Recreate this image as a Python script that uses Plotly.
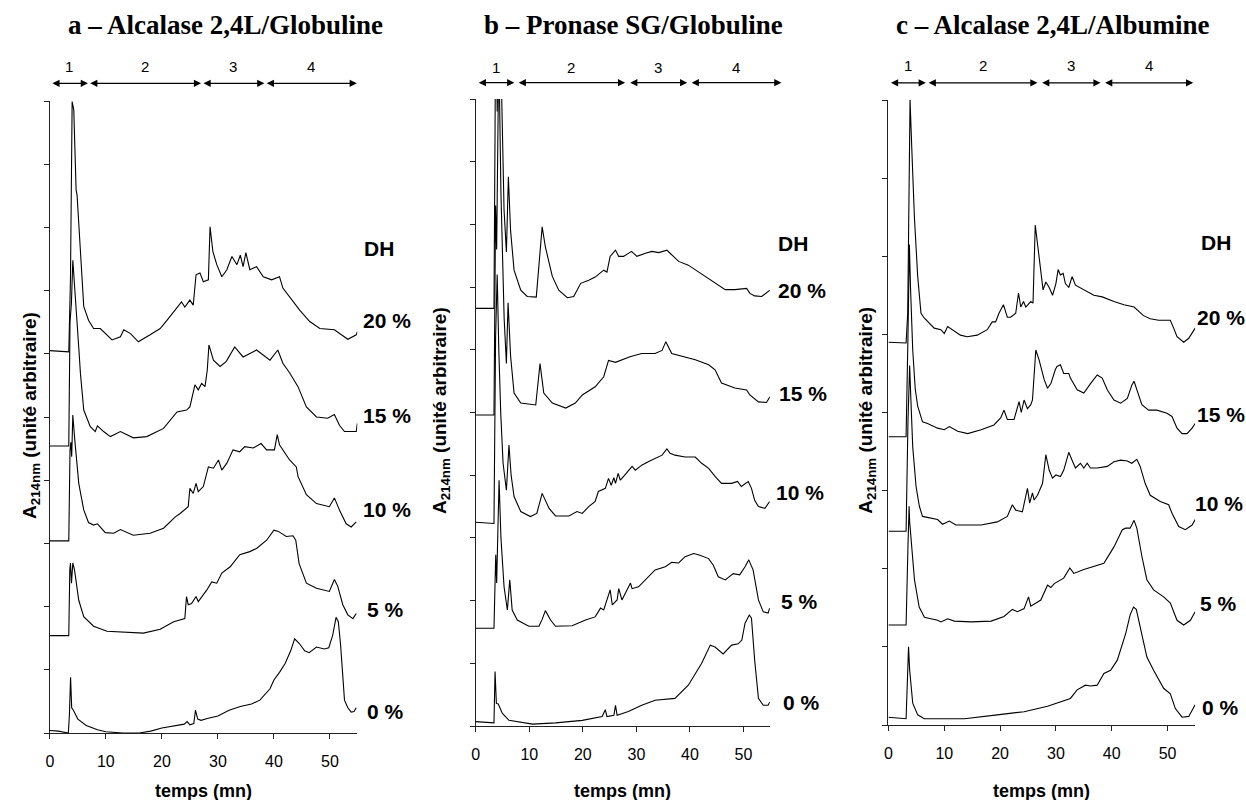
import plotly.graph_objects as go

# ---------------- data ----------------
DH_LEVELS = ["0 %", "5 %", "10 %", "15 %", "20 %"]
TIME_TICKS = [0, 10, 20, 30, 40, 50]
REGION_NAMES = ["1", "2", "3", "4"]

# panel a – Alcalase 2,4L / Globuline : (time mn, absorbance a.u.)
a0 = [(0, 0.04), (1.5, 0.03), (3.3, 0.0), (3.5, 0.3), (3.7, 0.88), (3.9, 0.4), (4.2, 0.36), (5.0, 0.22),
      (6.5, 0.12), (8.5, 0.05), (10, 0.02), (13, 0.0), (16, 0.0), (18, 0.03), (20, 0.08), (22, 0.11),
      (24, 0.14), (24.5, 0.18), (25, 0.13), (25.7, 0.15), (26.0, 0.36), (26.4, 0.22), (27, 0.2),
      (28.1, 0.23), (30, 0.27), (32, 0.36), (34, 0.42), (36, 0.46), (37.5, 0.52), (39.3, 0.70),
      (40, 0.84), (41, 0.96), (42, 1.1), (43, 1.3), (43.7, 1.49), (44.5, 1.42), (45.5, 1.3), (46.3, 1.27),
      (47.6, 1.36), (49, 1.33), (49.8, 1.35), (50.5, 1.55), (51.1, 1.83), (51.5, 1.76), (51.9, 1.4),
      (52.3, 0.9), (52.6, 0.52), (53.2, 0.4), (53.8, 0.33), (54.3, 0.34), (54.7, 0.40)]
a5 = [(0, 1.54), (3.38, 1.54), (3.56, 2.58), (3.68, 2.69), (3.86, 2.37), (4.1, 2.69), (4.4, 2.58),
      (5.16, 2.10), (6.05, 1.84), (7.8, 1.69), (10.2, 1.61), (13.2, 1.60), (16.7, 1.58), (19.7, 1.64),
      (22.1, 1.76), (24.1, 1.81), (24.4, 2.16), (24.7, 2.03), (25.3, 2.05), (26.1, 2.16), (26.5, 2.08),
      (28.0, 2.26), (28.9, 2.39), (29.8, 2.37), (30.7, 2.53), (32.2, 2.63), (33.9, 2.82), (35.7, 2.87),
      (36.9, 2.92), (38.7, 3.05), (40.0, 3.21), (40.8, 3.19), (42.2, 3.11), (43.4, 3.12), (43.9, 3.05),
      (44.5, 2.68), (45.8, 2.37), (47.6, 2.29), (49.9, 2.24), (50.8, 2.43), (51.4, 2.32), (52.3, 2.03),
      (53.2, 1.87), (54.1, 1.81), (54.7, 1.89)]
a10 = [(0, 3.04), (3.38, 3.04), (3.6, 4.48), (3.75, 4.6), (3.9, 4.37), (4.1, 5.03), (4.4, 4.69),
       (5.16, 3.95), (6.05, 3.53), (6.9, 3.33), (7.8, 3.29), (8.5, 3.31), (9.9, 3.17), (11.4, 3.16),
       (12.6, 3.22), (14.9, 3.13), (17.9, 3.16), (20.3, 3.24), (22.4, 3.42), (23.2, 3.47), (24.7, 3.58),
       (25.0, 3.87), (25.6, 3.79), (26.1, 3.95), (26.5, 3.82), (27.4, 3.90), (28.3, 4.21), (29.2, 4.19),
       (30.1, 4.32), (30.7, 4.16), (31.6, 4.27), (32.7, 4.48), (33.9, 4.45), (34.8, 4.53), (36.3, 4.51),
       (37.7, 4.58), (38.7, 4.48), (40.1, 4.48), (40.6, 4.72), (41.0, 4.56), (42.8, 4.32), (44.0, 4.21),
       (44.3, 4.06), (45.8, 3.77), (47.6, 3.63), (49.9, 3.58), (50.8, 3.72), (51.7, 3.53), (52.9, 3.31),
       (53.8, 3.26), (54.7, 3.34)]
a15 = [(0, 4.54), (3.38, 4.54), (3.6, 6.5), (3.85, 6.8), (4.1, 7.48), (4.4, 7.1), (4.86, 6.64),
       (5.16, 6.1), (5.46, 5.69), (6.05, 5.11), (7.2, 4.85), (8.1, 4.77), (8.5, 4.86), (9.6, 4.77),
       (10.8, 4.69), (12.6, 4.77), (14.9, 4.67), (17.3, 4.69), (20.3, 4.82), (22.7, 5.08), (24.4, 5.11),
       (25.0, 5.16), (25.9, 5.51), (26.5, 5.43), (27.1, 5.53), (27.7, 5.48), (28.1, 5.74), (28.4, 6.14),
       (29.2, 5.90), (30.4, 5.80), (31.5, 5.88), (33.0, 6.11), (34.5, 5.95), (36.9, 6.06), (39.3, 5.90),
       (40.7, 6.06), (41.6, 5.85), (42.8, 5.70), (44.3, 5.48), (45.8, 5.16), (47.6, 5.00), (49.6, 4.98),
       (50.8, 5.04), (51.7, 4.87), (52.6, 4.77), (54.7, 4.77), (54.9, 4.90)]
a20 = [(0, 6.05), (3.38, 6.03), (3.68, 7.17), (3.98, 9.99), (4.27, 9.86), (4.69, 8.59), (4.86, 8.51),
       (5.46, 7.59), (6.05, 6.75), (6.9, 6.53), (7.8, 6.40), (9.0, 6.40), (10.2, 6.30), (11.1, 6.22),
       (12.6, 6.27), (13.2, 6.38), (14.4, 6.32), (15.8, 6.19), (17.9, 6.30), (19.7, 6.40), (20.9, 6.53),
       (22.4, 6.69), (23.5, 6.82), (24.1, 6.74), (25.0, 6.85), (25.6, 6.77), (26.1, 7.25), (26.8, 7.28),
       (27.4, 7.14), (28.3, 7.17), (28.6, 8.01), (29.1, 7.62), (29.8, 7.41), (30.7, 7.22), (31.6, 7.33),
       (32.5, 7.54), (33.4, 7.41), (34.0, 7.56), (34.5, 7.38), (35.0, 7.60), (35.7, 7.33), (36.9, 7.38),
       (38.1, 7.22), (39.6, 7.17), (41.0, 7.22), (41.6, 7.04), (42.8, 6.90), (44.6, 6.69), (46.4, 6.51),
       (48.2, 6.40), (50.8, 6.38), (52.6, 6.27), (53.2, 6.23), (54.7, 6.30), (54.9, 6.35)]

# panel b – Pronase SG / Globuline
b0 = [(0, 0.07), (3.4, 0.05), (3.6, 0.87), (3.85, 0.36), (4.2, 0.35), (4.97, 0.20), (6.2, 0.09),
      (10.6, 0.03), (14.9, 0.05), (19.9, 0.09), (23.6, 0.15), (24.2, 0.26), (24.5, 0.15), (25.8, 0.17),
      (26.1, 0.33), (26.4, 0.17), (28.5, 0.23), (31.0, 0.33), (33.5, 0.41), (37.2, 0.44), (39.7, 0.65),
      (42.2, 1.0), (43.8, 1.29), (44.7, 1.26), (46.2, 1.15), (47.8, 1.29), (49.0, 1.31), (49.7, 1.37),
      (50.3, 1.64), (51.1, 1.77), (51.5, 1.72), (52.1, 1.05), (52.8, 0.44), (53.7, 0.33), (54.6, 0.33),
      (54.9, 0.38)]
b5 = [(0, 1.56), (3.4, 1.56), (3.6, 2.28), (3.73, 2.73), (3.9, 2.28), (4.35, 3.92), (4.7, 3.0),
      (5.28, 2.22), (5.9, 1.85), (6.35, 2.33), (6.8, 1.85), (7.75, 1.69), (9.9, 1.59), (11.8, 1.59),
      (12.4, 1.7), (13.0, 1.84), (13.97, 1.69), (14.9, 1.59), (18.0, 1.60), (20.5, 1.69), (22.3, 1.74),
      (23.3, 1.88), (23.9, 1.85), (24.5, 2.01), (25.1, 2.17), (25.5, 1.93), (26.4, 2.01), (26.7, 2.19),
      (27.3, 2.01), (28.9, 2.28), (29.2, 2.19), (30.4, 2.22), (32.3, 2.38), (33.5, 2.49), (35.4, 2.54),
      (36.6, 2.61), (37.9, 2.60), (39.1, 2.70), (40.7, 2.75), (41.6, 2.73), (43.5, 2.67), (44.4, 2.56),
      (45.3, 2.38), (46.6, 2.33), (48.1, 2.43), (49.3, 2.41), (50.3, 2.54), (51.0, 2.65), (51.8, 2.49),
      (52.8, 2.01), (53.7, 1.82), (54.6, 1.80), (54.9, 1.88)]
b10 = [(0, 3.25), (3.4, 3.23), (3.7, 6.2), (4.0, 7.2), (4.3, 6.0), (4.66, 4.99), (5.1, 4.19),
       (5.72, 3.76), (6.2, 4.48), (6.6, 4.0), (7.15, 3.66), (8.4, 3.42), (10.2, 3.34), (11.4, 3.39),
       (12.4, 3.71), (13.7, 3.47), (14.9, 3.35), (17.4, 3.35), (18.9, 3.42), (19.9, 3.39), (21.1, 3.50),
       (22.3, 3.58), (22.9, 3.74), (24.2, 3.79), (24.8, 3.95), (25.3, 3.84), (25.8, 3.96), (26.1, 3.87),
       (26.6, 4.03), (27.0, 3.92), (27.9, 4.01), (29.2, 4.14), (29.8, 4.08), (31.0, 4.16), (32.3, 4.22),
       (33.5, 4.27), (34.8, 4.32), (35.7, 4.42), (36.3, 4.35), (37.2, 4.32), (39.1, 4.29), (41.0, 4.29),
       (42.2, 4.19), (43.5, 4.11), (44.7, 3.98), (45.9, 3.87), (47.8, 3.87), (48.9, 3.90), (49.6, 3.82),
       (50.9, 3.90), (51.5, 3.79), (52.1, 3.60), (52.8, 3.50), (54.0, 3.47), (54.9, 3.58)]
b15 = [(0, 4.96), (3.4, 4.96), (3.7, 8.3), (3.9, 7.6), (4.3, 10.8), (4.7, 8.5), (5.3, 6.5),
       (5.72, 5.78), (6.03, 6.75), (6.5, 5.9), (7.15, 5.31), (8.4, 5.15), (11.2, 5.12), (11.7, 5.5),
       (12.0, 5.78), (12.7, 5.31), (14.3, 5.15), (16.8, 5.07), (18.6, 5.15), (19.9, 5.28), (22.3, 5.41),
       (23.9, 5.57), (24.5, 5.76), (24.8, 5.83), (26.1, 5.80), (27.3, 5.84), (28.8, 5.89), (31.0, 5.94),
       (33.5, 5.94), (34.8, 5.99), (35.5, 6.13), (36.6, 5.94), (39.1, 5.89), (41.0, 5.84), (43.5, 5.76),
       (44.7, 5.68), (45.9, 5.47), (48.4, 5.39), (50.6, 5.36), (51.2, 5.28), (52.8, 5.17), (54.3, 5.16),
       (54.95, 5.25)]
b20 = [(0, 6.66), (3.4, 6.66), (3.6, 9.5), (3.75, 12.0), (4.0, 9.8), (4.4, 12.0), (4.8, 10.2),
       (5.28, 8.23), (5.72, 7.56), (6.09, 8.76), (6.5, 7.9), (7.15, 7.27), (8.4, 6.95), (9.6, 6.85),
       (11.3, 6.84), (11.8, 7.4), (12.4, 7.96), (13.0, 7.64), (14.3, 7.17), (15.5, 6.95), (17.1, 6.83),
       (18.3, 6.85), (19.6, 7.06), (21.1, 7.11), (22.3, 7.16), (23.9, 7.27), (24.5, 7.24), (25.1, 7.49),
       (26.1, 7.59), (26.7, 7.49), (27.6, 7.49), (29.1, 7.57), (30.1, 7.49), (31.7, 7.54), (32.9, 7.57),
       (34.2, 7.55), (35.7, 7.59), (36.3, 7.54), (37.9, 7.41), (39.7, 7.35), (41.6, 7.24), (43.5, 7.14),
       (45.3, 7.03), (46.6, 6.96), (48.4, 6.96), (50.6, 6.98), (51.2, 6.90), (52.1, 6.86), (53.4, 6.85),
       (54.3, 6.90), (54.95, 6.95)]

# panel c – Alcalase 2,4L / Albumine
c0 = [(0, 0.10), (3.16, 0.08), (3.6, 1.0), (3.8, 0.70), (4.35, 0.28), (5.24, 0.13), (6.4, 0.08),
      (13.6, 0.08), (19.5, 0.13), (24.3, 0.17), (28.5, 0.24), (30.8, 0.30), (32.6, 0.34), (33.8, 0.45),
      (35.3, 0.51), (36.2, 0.50), (37.4, 0.51), (38.6, 0.66), (39.8, 0.70), (41.0, 0.83), (42.5, 1.17),
      (43.3, 1.41), (43.9, 1.51), (44.4, 1.48), (45.4, 1.14), (46.3, 0.87), (47.5, 0.70), (49.3, 0.47),
      (50.5, 0.40), (51.4, 0.21), (52.6, 0.10), (53.8, 0.11), (54.95, 0.26)]
c5 = [(0, 1.28), (3.16, 1.28), (3.5, 2.3), (3.7, 2.80), (3.8, 2.6), (4.05, 2.37), (4.4, 2.05),
      (4.66, 1.86), (5.5, 1.51), (6.45, 1.38), (7.6, 1.36), (8.8, 1.34), (9.4, 1.32), (10.6, 1.36),
      (11.8, 1.33), (14.8, 1.32), (18.4, 1.33), (20.7, 1.39), (22.2, 1.48), (23.1, 1.45), (24.3, 1.49),
      (25.1, 1.64), (25.5, 1.52), (27.3, 1.60), (28.5, 1.79), (29.1, 1.76), (29.7, 1.81), (31.4, 1.88),
      (32.5, 2.01), (33.2, 1.94), (35.0, 1.99), (36.8, 2.03), (38.6, 2.07), (40.4, 2.28), (41.9, 2.50),
      (42.5, 2.52), (43.3, 2.52), (44.0, 2.62), (44.5, 2.52), (45.4, 2.16), (46.3, 1.86), (47.5, 1.73),
      (49.3, 1.64), (50.5, 1.56), (51.7, 1.34), (52.9, 1.28), (54.1, 1.34), (54.95, 1.45)]
c10 = [(0, 2.48), (3.16, 2.48), (3.5, 3.9), (3.8, 4.6), (4.0, 4.2), (4.35, 3.56), (4.95, 3.05),
       (5.54, 2.80), (6.1, 2.67), (7.3, 2.65), (8.8, 2.63), (9.7, 2.57), (10.9, 2.61), (12.1, 2.56),
       (13.6, 2.56), (16.6, 2.56), (19.5, 2.60), (21.3, 2.67), (22.2, 2.82), (22.8, 2.75), (24.0, 2.73),
       (24.9, 3.03), (25.3, 2.84), (25.8, 2.97), (26.1, 2.88), (26.7, 2.94), (27.6, 3.09), (28.2, 3.46),
       (28.8, 3.26), (29.4, 3.16), (30.0, 3.20), (30.8, 3.18), (31.4, 3.26), (32.3, 3.49), (32.9, 3.39),
       (33.5, 3.29), (34.4, 3.35), (35.0, 3.29), (35.6, 3.35), (36.2, 3.29), (37.4, 3.29), (39.2, 3.31),
       (40.4, 3.37), (41.6, 3.39), (42.8, 3.38), (43.6, 3.35), (44.5, 3.40), (45.1, 3.31), (46.0, 3.09),
       (46.9, 2.94), (48.7, 2.86), (50.2, 2.82), (50.8, 2.71), (52.0, 2.54), (53.2, 2.50), (54.4, 2.56),
       (54.95, 2.63)]
c15 = [(0, 3.69), (3.16, 3.69), (3.5, 5.0), (3.75, 6.15), (3.95, 5.6), (4.35, 4.8), (4.8, 4.3),
       (5.24, 4.08), (6.1, 3.88), (7.0, 3.86), (8.8, 3.80), (10.0, 3.78), (10.9, 3.82), (12.4, 3.76),
       (14.2, 3.73), (16.6, 3.78), (18.9, 3.84), (20.1, 3.93), (20.7, 4.03), (21.3, 3.91), (22.5, 3.91),
       (23.4, 4.14), (23.8, 4.0), (24.3, 4.16), (24.9, 4.05), (25.5, 4.10), (25.8, 4.16), (26.4, 4.80),
       (27.0, 4.67), (27.9, 4.42), (28.5, 4.31), (29.1, 4.37), (29.9, 4.55), (30.2, 4.59), (30.8, 4.61),
       (31.4, 4.50), (32.3, 4.50), (32.6, 4.44), (33.8, 4.29), (35.0, 4.25), (36.2, 4.37), (37.4, 4.48),
       (38.3, 4.44), (39.2, 4.29), (40.4, 4.16), (41.6, 4.12), (42.8, 4.18), (43.6, 4.35), (44.0, 4.40),
       (44.5, 4.29), (45.4, 4.10), (46.6, 4.03), (48.1, 4.03), (49.9, 3.99), (50.8, 3.95), (51.7, 3.80),
       (52.6, 3.73), (53.5, 3.73), (54.4, 3.80), (54.95, 3.86)]
c20 = [(0, 4.90), (3.16, 4.89), (3.45, 5.27), (3.87, 8.0), (4.17, 7.40), (4.65, 6.5), (5.24, 5.74),
       (5.83, 5.27), (6.4, 5.21), (7.3, 5.14), (8.2, 5.08), (9.4, 5.06), (10.0, 5.01), (10.6, 5.10),
       (11.5, 5.06), (12.9, 4.99), (14.1, 4.97), (15.9, 4.99), (17.7, 5.06), (18.6, 5.16), (19.2, 5.16),
       (19.8, 5.27), (20.6, 5.38), (21.3, 5.22), (21.9, 5.22), (22.8, 5.27), (23.3, 5.53), (23.7, 5.35),
       (24.2, 5.42), (24.6, 5.35), (25.5, 5.42), (25.9, 5.40), (26.3, 6.40), (26.8, 6.08), (27.3, 5.78),
       (27.7, 5.57), (28.2, 5.67), (28.8, 5.60), (29.4, 5.50), (30.0, 5.65), (30.4, 5.83), (30.8, 5.76),
       (31.3, 5.78), (31.7, 5.65), (32.3, 5.60), (32.9, 5.74), (33.5, 5.63), (35.0, 5.57), (36.8, 5.50),
       (38.3, 5.48), (39.2, 5.45), (40.4, 5.42), (42.2, 5.38), (44.0, 5.35), (45.7, 5.24), (46.9, 5.20),
       (48.4, 5.18), (50.5, 5.18), (51.1, 5.08), (51.7, 4.97), (52.9, 4.90), (53.8, 4.95), (54.95, 5.08)]

# elution regions 1-4 (start / end, mn)
a_reg_start = [0.2, 7.0, 27.2, 38.5]
a_reg_end = [6.8, 27.0, 38.3, 54.8]
b_reg_start = [0.3, 7.8, 28.6, 40.1]
b_reg_end = [7.2, 27.9, 39.5, 57.1]
c_reg_start = [0.2, 7.0, 27.3, 38.6]
c_reg_end = [6.7, 26.7, 38.0, 54.6]

# ---------------- layout / style ----------------
W, H = 1246, 800
SANS = "Liberation Sans, Arial, sans-serif"
SERIF = "Liberation Serif, Times New Roman, serif"
AX = "#222222"

panels = [
    dict(title="a – Alcalase 2,4L/Globuline", title_x=222,
         traces=[a0, a5, a10, a15, a20], reg=(a_reg_start, a_reg_end),
         px=(46, 354.5), py=(733, 101), xmax=54.9, ymax=10,
         arrow_y=10.28, num_y=10.54, ytitle_x=27,
         lab_x=[56.2, 56.2, 55.5, 55.5, 55.5], lab_y=[0.34, 1.95, 3.53, 5.03, 6.52], dh=(58.8, 7.67)),
    dict(title="b – Pronase SG/Globuline", title_x=632,
         traces=[b0, b5, b10, b15, b20], reg=(b_reg_start, b_reg_end),
         px=(473.3, 768.3), py=(726, 99), xmax=54.93, ymax=10,
         arrow_y=10.26, num_y=10.51, ytitle_x=438,
         lab_x=[57.1, 56.7, 55.8, 56.2, 56.0], lab_y=[0.37, 1.98, 3.73, 5.31, 6.95], dh=(59.3, 7.70)),
    dict(title="c – Alcalase 2,4L/Albumine", title_x=1052,
         traces=[c0, c5, c10, c15, c20], reg=(c_reg_start, c_reg_end),
         px=(887.3, 1195), py=(725, 100), xmax=54.95, ymax=8,
         arrow_y=8.22, num_y=8.44, ytitle_x=865,
         lab_x=[55.9, 55.5, 54.6, 54.9, 54.9], lab_y=[0.23, 1.56, 2.84, 3.97, 5.22], dh=(58.7, 6.17)),
]


def sx(p, t):
    """data time -> paper x (same linear scale as the panel's x axis)"""
    return (p["px"][0] + t * (p["px"][1] - p["px"][0]) / p["xmax"]) / W


def sy(p, v):
    """data absorbance -> paper y (same linear scale as the panel's y axis)"""
    return 1 - (p["py"][0] - v * (p["py"][0] - p["py"][1]) / p["ymax"]) / H


fig = go.Figure()
annotations = []
layout_axes = {}

for i, p in enumerate(panels):
    sfx = "" if i == 0 else str(i + 1)
    xa, ya = "x" + sfx, "y" + sfx
    for pts in p["traces"]:
        fig.add_trace(go.Scatter(
            x=[q[0] for q in pts], y=[q[1] for q in pts], mode="lines",
            line=dict(color="black", width=1.1), xaxis=xa, yaxis=ya,
            hoverinfo="skip", showlegend=False))

    layout_axes["xaxis" + sfx] = dict(
        domain=[p["px"][0] / W, p["px"][1] / W], range=[0, p["xmax"]], anchor=ya,
        showline=True, linecolor=AX, linewidth=1, ticks="outside", ticklen=5, tickcolor=AX,
        tickvals=TIME_TICKS, tickfont=dict(family=SANS, size=16, color="black"),
        ticklabelstandoff=9, showgrid=False, zeroline=False, fixedrange=True)
    layout_axes["yaxis" + sfx] = dict(
        domain=[1 - p["py"][0] / H, 1 - p["py"][1] / H], range=[0, p["ymax"]], anchor=xa,
        showline=True, linecolor=AX, linewidth=1, ticks="outside", ticklen=5, tickcolor=AX,
        dtick=1, tick0=0, showticklabels=False, showgrid=False, zeroline=False, fixedrange=True)

    # panel title
    annotations.append(dict(xref="paper", yref="paper", x=p["title_x"] / W, y=1 - 25 / H,
                            text="<b>" + p["title"] + "</b>", showarrow=False,
                            font=dict(family=SERIF, size=27, color="black"),
                            xanchor="center", yanchor="middle"))
    # x title
    annotations.append(dict(xref="paper", yref="paper", x=(p["px"][0] + p["px"][1]) / 2 / W, y=1 - 791 / H,
                            text="<b>temps (mn)</b>", showarrow=False,
                            font=dict(family=SANS, size=18, color="black"),
                            xanchor="center", yanchor="middle"))
    # y title
    annotations.append(dict(xref="paper", yref="paper", x=p["ytitle_x"] / W,
                            y=1 - ((p["py"][0] + p["py"][1]) / 2 - 2) / H,
                            text="<b>A<sub>214nm</sub> (unité arbitraire)</b>", showarrow=False,
                            textangle=-90, font=dict(family=SANS, size=19, color="black"),
                            xanchor="center", yanchor="middle"))
    # region arrows and numbers
    starts, ends = p["reg"]
    for name, s, e in zip(REGION_NAMES, starts, ends):
        length_px = (e - s) * (p["px"][1] - p["px"][0]) / p["xmax"]
        annotations.append(dict(xref="paper", yref="paper", axref="pixel", ayref="pixel",
                                x=sx(p, e), y=sy(p, p["arrow_y"]), ax=-length_px, ay=0, text="",
                                showarrow=True, arrowhead=2, arrowside="end+start",
                                arrowsize=1.2, arrowwidth=1.2, arrowcolor="black",
                                standoff=0, startstandoff=0))
        annotations.append(dict(xref="paper", yref="paper", x=sx(p, (s + e) / 2), y=sy(p, p["num_y"]),
                                text=name, showarrow=False,
                                font=dict(family=SANS, size=15, color="black"),
                                xanchor="center", yanchor="middle"))
    # DH labels
    for lab, lx, ly in zip(DH_LEVELS, p["lab_x"], p["lab_y"]):
        annotations.append(dict(xref="paper", yref="paper", x=sx(p, lx), y=sy(p, ly),
                                text="<b>" + lab + "</b>", showarrow=False,
                                font=dict(family=SANS, size=21, color="black"),
                                xanchor="left", yanchor="middle"))
    annotations.append(dict(xref="paper", yref="paper", x=sx(p, p["dh"][0]), y=sy(p, p["dh"][1]),
                            text="<b>DH</b>", showarrow=False,
                            font=dict(family=SANS, size=21, color="black"),
                            xanchor="center", yanchor="middle"))

fig.update_layout(width=W, height=H, margin=dict(l=0, r=0, t=0, b=0),
                  paper_bgcolor="white", plot_bgcolor="white", showlegend=False,
                  annotations=annotations, **layout_axes)

fig.write_html("out.html", post_script="document.body.style.margin='0';",
               config={"displayModeBar": False})
